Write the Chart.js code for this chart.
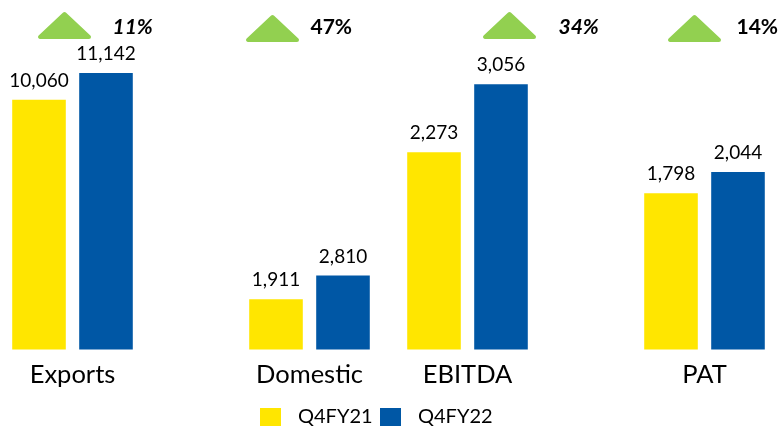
<!DOCTYPE html>
<html>
<head>
<meta charset="utf-8">
<script src="https://cdn.jsdelivr.net/npm/chart.js@4.4.1/dist/chart.umd.min.js"></script>
<style>
  html, body { margin: 0; padding: 0; background: #fff; }
</style>
</head>
<body>
<canvas id="myChart" width="780" height="426"></canvas>
<script>
var categories = ['Exports', 'Domestic', 'EBITDA', 'PAT'];
var seriesNames = ['Q4FY21', 'Q4FY22'];
var q4fy21 = [10060, 1911, 2273, 1798];
var q4fy22 = [11142, 2810, 3056, 2044];
var growth = ['11%', '47%', '34%', '14%'];

// each block of the slide has its own value scale
var axisOf = ['yExp', 'yDom', 'yPro', 'yPro'];
var axisMax = { yExp: 12070, yDom: 11390, yPro: 3450 };

// layout: blocks sit on a grid of 9 slots, with gaps between them
var slotOf = [0, 3, 5, 8];
var slotCount = 9;
var colors = ['#FFE600', '#0057A5'];
var seriesValues = [q4fy21, q4fy22];

// badge look per block (offsets from the block centre)
var triOffset = [-8, -37, 42, -10];
var triTop = [12, 15, 12, 15];
var pctOffset = [40, 1, 91, 32];
var pctItalic = [true, false, true, false];

function fmt(n) {
  return String(n).replace(/\B(?=(\d{3})+(?!\d))/g, ',');
}

var labels = [];
for (var s = 0; s < slotCount; s++) labels.push('');
for (var i = 0; i < categories.length; i++) labels[slotOf[i]] = categories[i];

var datasets = [];
['yExp', 'yDom', 'yPro'].forEach(function (axis) {
  for (var k = 0; k < seriesNames.length; k++) {
    var d = [];
    for (var s = 0; s < slotCount; s++) d.push(null);
    for (var i = 0; i < categories.length; i++) {
      if (axisOf[i] === axis) d[slotOf[i]] = seriesValues[k][i];
    }
    datasets.push({
      label: seriesNames[k],
      data: d,
      yAxisID: axis,
      backgroundColor: colors[k],
      borderWidth: 0,
      clip: false,
      skipNull: true,
      categoryPercentage: 1.696,
      barPercentage: 0.8
    });
  }
});

var overlay = {
  id: 'overlay',
  afterDatasetsDraw: function (chart) {
    var ctx = chart.ctx;
    var xs = chart.scales.x;
    ctx.save();

    // value labels above bars
    ctx.font = '19px Lato';
    ctx.fillStyle = '#000';
    ctx.textAlign = 'center';
    ctx.textBaseline = 'alphabetic';
    chart.data.datasets.forEach(function (ds, di) {
      chart.getDatasetMeta(di).data.forEach(function (bar, j) {
        if (ds.data[j] == null) return;
        ctx.fillText(fmt(ds.data[j]), bar.x, bar.y - 13);
      });
    });

    // growth badges
    for (var i = 0; i < categories.length; i++) {
      var cx = xs.getPixelForValue(slotOf[i]);
      var tx = cx + triOffset[i];
      var top = triTop[i];
      ctx.fillStyle = '#92D050';
      ctx.strokeStyle = '#92D050';
      ctx.lineWidth = 4;
      ctx.lineJoin = 'round';
      ctx.beginPath();
      ctx.moveTo(tx - 24.5, top + 25);
      ctx.lineTo(tx + 24.5, top + 25);
      ctx.lineTo(tx, top + 2);
      ctx.closePath();
      ctx.fill();
      ctx.stroke();

      ctx.fillStyle = '#000';
      ctx.textAlign = 'left';
      ctx.font = (pctItalic[i] ? 'italic ' : '') + 'bold 21px Lato';
      ctx.fillText(growth[i], cx + pctOffset[i], 34);
    }

    // legend
    ctx.font = '20px Lato';
    var lx = 260;
    for (var k = 0; k < seriesNames.length; k++) {
      ctx.fillStyle = colors[k];
      ctx.fillRect(lx, 408, 21, 21);
      ctx.fillStyle = '#000';
      ctx.fillText(seriesNames[k], lx + 38, 423);
      lx += 120;
    }
    ctx.restore();
  }
};

new Chart(document.getElementById('myChart'), {
  type: 'bar',
  data: { labels: labels, datasets: datasets },
  options: {
    responsive: false,
    animation: false,
    layout: { padding: { left: 33, right: 36, top: 50, bottom: 26 } },
    plugins: {
      legend: { display: false },
      tooltip: { enabled: false }
    },
    scales: {
      x: {
        grid: { display: false, drawTicks: false },
        border: { display: false },
        ticks: {
          autoSkip: false,
          maxRotation: 0,
          padding: 10,
          color: '#000',
          font: { family: 'Lato', size: 25.5 }
        }
      },
      yExp: { display: false, min: 0, max: axisMax.yExp },
      yDom: { display: false, min: 0, max: axisMax.yDom },
      yPro: { display: false, min: 0, max: axisMax.yPro }
    }
  },
  plugins: [overlay]
});
</script>
</body>
</html>
